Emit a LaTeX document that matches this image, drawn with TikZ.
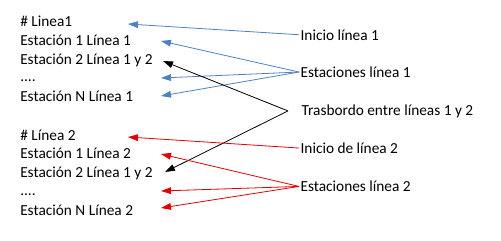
\documentclass[tikz,border=0pt]{standalone}
\usepackage{fontspec}
\setmainfont{Carlito}
\usetikzlibrary{arrows.meta,positioning}

\definecolor{azul}{RGB}{79,129,189}
\definecolor{rojo}{RGB}{228,0,0}

\begin{document}
\begin{tikzpicture}[
    x=0.75pt, y=-0.75pt,
    linea/.style={anchor=base west, inner sep=0pt,
                  font=\fontsize{11.5}{14}\selectfont},
    etiq/.style={anchor=base west, inner sep=1pt,
                 font=\fontsize{11.5}{14}\selectfont},
    flecha/.style={-{Triangle[length=7.5pt,width=5pt]}, line width=0.6pt}
]
\useasboundingbox (0,0) rectangle (501,240);

% fichero de la linea 1
\node[linea] (h1)  at (20,26.5)  {\# Linea1};
\node[linea] (l11) at (20,45.3)  {Estación 1 Línea 1};
\node[linea] (l12) at (20,64)    {Estación 2 Línea 1 y 2};
\node[linea] (l1d) at (20,81.5)  {....};
\node[linea] (l1n) at (20,101)   {Estación N Línea 1};

% fichero de la linea 2
\node[linea] (h2)  at (20,140)   {\# Línea 2};
\node[linea] (l21) at (20,158.5) {Estación 1 Línea 2};
\node[linea] (l22) at (20,177.3) {Estación 2 Línea 1 y 2};
\node[linea] (l2d) at (20,195)   {....};
\node[linea] (l2n) at (20,215)   {Estación N Línea 2};

% explicaciones
\node[etiq] (ini1)  at (299,40)    {Inicio línea 1};
\node[etiq] (est1)  at (299,77.3)  {Estaciones línea 1};
\node[etiq] (tras)  at (300,115)   {Trasbordo entre líneas 1 y 2};
\node[etiq] (ini2)  at (299,153.3) {Inicio de línea 2};
\node[etiq] (est2)  at (299,191.7) {Estaciones línea 2};
\coordinate[left=9pt of tras.west] (tb);

% puntas de las flechas
\coordinate (p1)  at (128,24);
\coordinate (p11) at (161,41);
\coordinate (p12) at (163,61);
\coordinate (p1d) at (161,78);
\coordinate (p1n) at (161,96);
\coordinate (p2)  at (128,137);
\coordinate (p21) at (161,154);
\coordinate (p22) at (165,172);
\coordinate (p2d) at (161,191);
\coordinate (p2n) at (161,208);

\draw[flecha, azul] (ini1.west) -- (p1);
\draw[flecha, azul] (est1.west) -- (p11);
\draw[flecha, azul] (est1.west) -- (p1d);
\draw[flecha, azul] (est1.west) -- (p1n);

\draw[flecha] (tb) -- (p12);
\draw[flecha] (tb) -- (p22);

\draw[flecha, rojo] (ini2.west) -- (p2);
\draw[flecha, rojo] (est2.west) -- (p21);
\draw[flecha, rojo] (est2.west) -- (p2d);
\draw[flecha, rojo] (est2.west) -- (p2n);

\end{tikzpicture}
\end{document}
